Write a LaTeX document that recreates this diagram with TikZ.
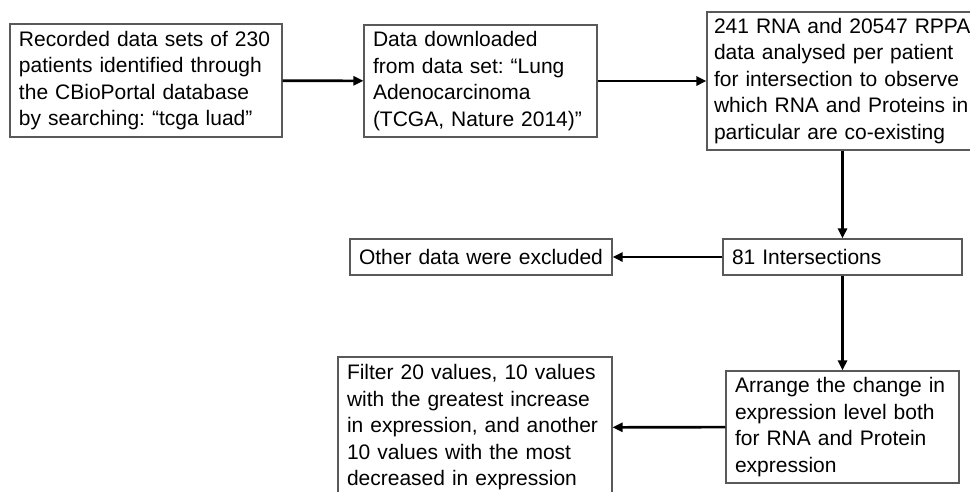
\documentclass[tikz,border=0pt]{standalone}
\usepackage{fontspec}
\setmainfont{Liberation Sans}
\usetikzlibrary{arrows.meta}

\begin{document}
\frenchspacing
\begin{tikzpicture}[x=1pt, y=-1pt,
		box/.style = {draw=black!65, line width=1.1pt, rectangle, inner xsep=9pt, inner ysep=0pt,
			align=left, font=\fontsize{21}{26.5}\selectfont},
		arr/.style = {-{Triangle[length=10pt, width=9pt]}, line width=2.6pt}]
		\useasboundingbox (0,0) rectangle (970,491);
		% 上段の箱
		\node [box, text width=254pt, minimum height=113pt] (rec) at (146,80.5)
		{Recorded data sets of 230\\patients identified through\\the CBioPortal database\\by searching: “tcga luad”};
		\node [box, text width=215pt, minimum height=112pt] (dl) at (480.5,81)
		{Data downloaded\\from data set: “Lung\\Adenocarcinoma\\(TCGA, Nature 2014)”};
		\node [box, inner xsep=7pt, text width=272pt, minimum height=138pt] (ana) at (850,81)
		{241 RNA and 20547 RPPA\\data analysed per patient\\for intersection to observe\\which RNA and Proteins in\\particular are co-existing};
		% 中段の箱
		\node [box, text width=221pt, minimum height=36pt] (inter) at (842.5,257)
		{81 Intersections};
		\node [box, text width=244pt, minimum height=36pt] (excl) at (481,257)
		{Other data were excluded};
		% 下段の箱
		\node [box, text width=215pt, minimum height=112pt] (arr) at (842.5,427)
		{Arrange the change in\\expression level both\\for RNA and Protein\\expression};
		\node [box, text width=256pt, minimum height=141pt] (filt) at (475,427.5)
		{Filter 20 values, 10 values\\with the greatest increase\\in expression, and another\\10 values with the most\\decreased in expression};
		% 矢印
		\draw [arr] (rec) -- (dl);
		\draw [arr] (dl) -- (ana);
		\draw [arr] (inter.north |- ana.south) -- (inter.north);
		\draw [arr] (inter) -- (excl);
		\draw [arr] (inter) -- (arr);
		\draw [arr] (arr) -- (filt);
	\end{tikzpicture}
\end{document}
